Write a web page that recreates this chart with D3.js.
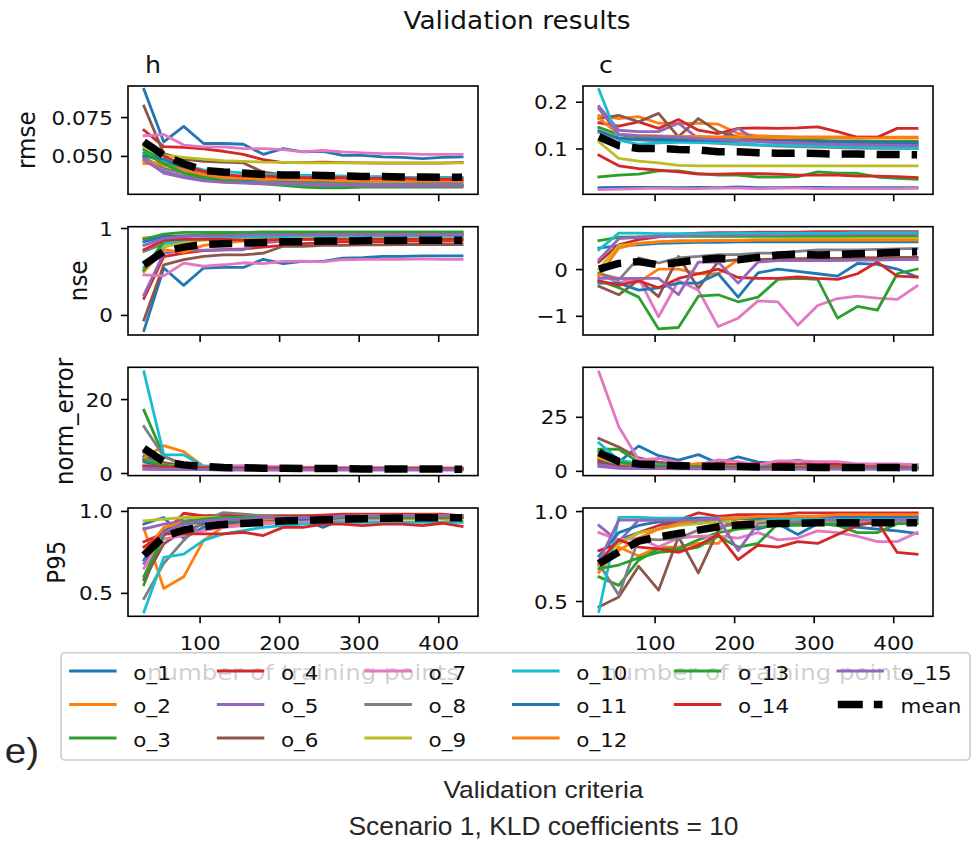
<!DOCTYPE html>
<html><head><meta charset="utf-8">
<script src="https://cdn.jsdelivr.net/npm/d3@7"></script>
<style>body{margin:0;background:#fff}svg{display:block}</style>
</head><body>
<svg id="chart" width="975" height="842"></svg>
<script>
// ---------------- DATA ----------------
const xPoints = [30,55,80,105,130,155,180,205,230,255,280,305,330,355,380,405,430];
const seriesNames = ["o_1","o_2","o_3","o_4","o_5","o_6","o_7","o_8","o_9","o_10","o_11","o_12","o_13","o_14","o_15"];
const xTickValues = [100,200,300,400];
const rowLabels = ["rmse","nse","norm_error","P95"];
const colTitles = ["h","c"];

const rmseH = [
 [0.0929,0.059,0.069,0.058,0.058,0.0575,0.051,0.0547,0.0526,0.053,0.0504,0.0504,0.0494,0.049,0.0483,0.049,0.0494],
 [0.045,0.046,0.043,0.039,0.037,0.036,0.0355,0.035,0.035,0.0345,0.034,0.034,0.034,0.034,0.0335,0.0335,0.0335],
 [0.054,0.047,0.041,0.037,0.035,0.034,0.033,0.032,0.031,0.0305,0.0305,0.031,0.031,0.031,0.031,0.031,0.031],
 [0.0666,0.056,0.0555,0.0545,0.053,0.051,0.0476,0.0457,0.0457,0.046,0.0457,0.0455,0.0453,0.0453,0.0453,0.0453,0.0458],
 [0.047,0.040,0.037,0.035,0.034,0.0335,0.033,0.033,0.0325,0.032,0.032,0.032,0.0315,0.0315,0.031,0.031,0.031],
 [0.0821,0.0515,0.048,0.0465,0.046,0.0455,0.0395,0.038,0.0375,0.037,0.037,0.0365,0.0365,0.036,0.036,0.036,0.036],
 [0.063,0.0638,0.057,0.0558,0.0558,0.0547,0.0547,0.054,0.0526,0.0535,0.0526,0.052,0.0515,0.0515,0.051,0.051,0.051],
 [0.049,0.042,0.039,0.036,0.0345,0.034,0.0335,0.033,0.033,0.0325,0.0325,0.032,0.032,0.032,0.032,0.032,0.032],
 [0.056,0.0504,0.049,0.048,0.047,0.0465,0.046,0.0458,0.0456,0.0455,0.0455,0.0455,0.0455,0.0455,0.0455,0.0455,0.0455],
 [0.050,0.047,0.044,0.041,0.040,0.039,0.038,0.038,0.0375,0.037,0.037,0.0365,0.0365,0.036,0.036,0.036,0.036],
 [0.050,0.048,0.042,0.038,0.036,0.035,0.035,0.0345,0.034,0.034,0.034,0.034,0.034,0.034,0.034,0.034,0.034],
 [0.047,0.044,0.041,0.038,0.036,0.0355,0.035,0.035,0.0345,0.0345,0.034,0.034,0.034,0.034,0.034,0.034,0.034],
 [0.052,0.045,0.039,0.036,0.034,0.033,0.032,0.031,0.030,0.0295,0.0295,0.030,0.030,0.030,0.030,0.030,0.030],
 [0.058,0.050,0.044,0.040,0.038,0.037,0.037,0.0365,0.036,0.036,0.036,0.0355,0.0355,0.0355,0.035,0.035,0.035],
 [0.048,0.039,0.036,0.034,0.033,0.0325,0.032,0.032,0.0315,0.031,0.031,0.031,0.0305,0.0305,0.0305,0.0305,0.0305]
];
const rmseHMean = [0.059,0.0504,0.045,0.0407,0.0397,0.039,0.0381,0.0378,0.0378,0.0374,0.0372,0.0368,0.0368,0.0364,0.0364,0.0362,0.0362];

const rmseC = [
 [0.016,0.017,0.017,0.017,0.016,0.017,0.016,0.018,0.016,0.016,0.017,0.017,0.016,0.016,0.016,0.016,0.016],
 [0.17,0.164,0.168,0.154,0.153,0.154,0.152,0.132,0.127,0.126,0.125,0.125,0.125,0.124,0.124,0.124,0.124],
 [0.145,0.129,0.125,0.123,0.122,0.121,0.12,0.119,0.118,0.118,0.117,0.117,0.116,0.116,0.115,0.115,0.115],
 [0.155,0.148,0.157,0.143,0.162,0.139,0.132,0.143,0.144,0.143,0.144,0.146,0.136,0.124,0.124,0.143,0.143],
 [0.19,0.139,0.136,0.136,0.154,0.121,0.118,0.143,0.115,0.112,0.11,0.108,0.107,0.106,0.105,0.105,0.105],
 [0.164,0.171,0.157,0.175,0.125,0.164,0.136,0.125,0.12,0.118,0.116,0.114,0.113,0.112,0.111,0.111,0.11],
 [0.012,0.013,0.014,0.015,0.014,0.014,0.015,0.015,0.014,0.015,0.015,0.014,0.014,0.014,0.014,0.014,0.015],
 [0.135,0.12,0.118,0.117,0.115,0.113,0.111,0.109,0.107,0.105,0.104,0.103,0.102,0.101,0.1,0.1,0.1],
 [0.114,0.0786,0.073,0.069,0.064,0.063,0.063,0.063,0.063,0.063,0.063,0.063,0.063,0.063,0.063,0.063,0.063],
 [0.226,0.118,0.109,0.112,0.113,0.113,0.112,0.11,0.108,0.107,0.106,0.105,0.104,0.103,0.102,0.101,0.1],
 [0.138,0.122,0.12,0.119,0.118,0.118,0.117,0.116,0.116,0.115,0.115,0.114,0.114,0.114,0.113,0.113,0.113],
 [0.165,0.13,0.128,0.127,0.126,0.126,0.125,0.125,0.124,0.124,0.123,0.123,0.123,0.122,0.122,0.122,0.122],
 [0.039,0.043,0.045,0.052,0.052,0.046,0.043,0.043,0.039,0.039,0.04,0.05,0.047,0.047,0.039,0.036,0.034],
 [0.0857,0.063,0.057,0.0536,0.05,0.045,0.045,0.0464,0.0464,0.045,0.043,0.043,0.043,0.041,0.041,0.04,0.038],
 [0.185,0.13,0.127,0.126,0.124,0.121,0.119,0.117,0.115,0.113,0.112,0.11,0.109,0.108,0.107,0.107,0.106]
];
const rmseCMean = [0.125,0.106,0.1,0.1,0.098,0.097,0.093,0.093,0.091,0.09,0.09,0.089,0.088,0.088,0.087,0.087,0.0864];

const nseH = [
 [-0.18,0.54,0.34,0.54,0.546,0.546,0.64,0.59,0.615,0.615,0.654,0.66,0.673,0.673,0.68,0.68,0.68],
 [0.885,0.9,0.91,0.915,0.915,0.92,0.92,0.92,0.92,0.92,0.92,0.92,0.92,0.92,0.92,0.92,0.92],
 [0.87,0.93,0.95,0.95,0.95,0.95,0.955,0.955,0.955,0.955,0.955,0.955,0.955,0.955,0.955,0.955,0.955],
 [0.19,0.67,0.71,0.74,0.75,0.76,0.78,0.8,0.82,0.83,0.84,0.84,0.845,0.85,0.85,0.85,0.85],
 [0.23,0.71,0.74,0.745,0.75,0.75,0.83,0.85,0.87,0.88,0.89,0.89,0.9,0.9,0.9,0.9,0.9],
 [-0.058,0.577,0.635,0.673,0.69,0.69,0.71,0.79,0.79,0.8,0.8,0.805,0.805,0.81,0.81,0.81,0.81],
 [0.46,0.45,0.596,0.56,0.577,0.6,0.59,0.615,0.62,0.61,0.635,0.64,0.64,0.64,0.645,0.64,0.64],
 [0.73,0.82,0.86,0.87,0.88,0.88,0.885,0.885,0.89,0.89,0.89,0.89,0.89,0.89,0.89,0.89,0.89],
 [0.5,0.78,0.84,0.86,0.87,0.875,0.88,0.88,0.885,0.885,0.885,0.89,0.89,0.89,0.89,0.89,0.89],
 [0.55,0.82,0.86,0.88,0.89,0.9,0.9,0.9,0.91,0.91,0.91,0.91,0.91,0.91,0.91,0.91,0.91],
 [0.84,0.9,0.91,0.92,0.92,0.92,0.93,0.93,0.93,0.93,0.93,0.93,0.93,0.93,0.93,0.93,0.93],
 [0.5,0.75,0.72,0.8,0.83,0.85,0.86,0.86,0.87,0.87,0.87,0.87,0.87,0.87,0.87,0.87,0.87],
 [0.52,0.85,0.9,0.92,0.93,0.935,0.94,0.94,0.94,0.94,0.945,0.945,0.945,0.945,0.945,0.945,0.945],
 [0.75,0.86,0.87,0.87,0.87,0.86,0.86,0.87,0.87,0.87,0.87,0.87,0.87,0.87,0.87,0.87,0.87],
 [0.8,0.88,0.9,0.91,0.91,0.92,0.92,0.92,0.92,0.925,0.925,0.925,0.925,0.925,0.925,0.925,0.925]
];
const nseHMean = [0.577,0.73,0.78,0.81,0.82,0.827,0.833,0.842,0.842,0.85,0.85,0.853,0.857,0.857,0.86,0.86,0.86];

const nseC = [
 [0.45,0.5,0.52,0.55,0.56,0.57,0.57,0.58,0.58,0.58,0.58,0.58,0.58,0.58,0.58,0.58,0.58],
 [-0.1,-0.2,-0.28,0.0,0.0,-0.1,-0.1,0.2,0.2,0.22,0.22,0.23,0.23,0.24,0.24,0.25,0.25],
 [0.61,0.68,0.69,0.7,0.7,0.7,0.7,0.7,0.7,0.7,0.7,0.7,0.7,0.7,0.7,0.7,0.7],
 [0.15,0.52,0.63,0.69,0.74,0.77,0.78,0.78,0.79,0.79,0.79,0.8,0.8,0.8,0.8,0.8,0.8],
 [0.2,0.65,0.68,0.7,0.71,0.72,0.72,0.73,0.73,0.74,0.74,0.74,0.75,0.75,0.75,0.75,0.75],
 [-0.37,-0.55,-0.23,-0.59,0.27,-0.41,0.16,0.2,0.2,0.21,0.22,0.23,0.23,0.24,0.24,0.25,0.25],
 [-0.1,-0.3,-0.2,-1.02,-0.25,-0.45,-1.23,-1.05,-0.68,-0.7,-1.2,-0.78,-0.63,-0.58,-0.62,-0.65,-0.36],
 [-0.086,-0.23,0.24,0.13,0.24,0.27,0.31,0.31,0.34,0.34,0.38,0.41,0.41,0.41,0.42,0.43,0.44],
 [0.0,0.5,0.55,0.58,0.6,0.61,0.62,0.62,0.63,0.63,0.64,0.64,0.64,0.65,0.65,0.65,0.65],
 [0.41,0.77,0.77,0.76,0.76,0.76,0.76,0.77,0.77,0.77,0.77,0.77,0.77,0.78,0.78,0.78,0.78],
 [-0.3,-0.3,-0.45,-0.4,-0.3,-0.3,-0.1,-0.6,-0.08,0.0,-0.05,-0.1,-0.15,0.12,0.1,0.0,-0.17],
 [-0.15,0.45,0.55,0.58,0.6,0.6,0.61,0.61,0.62,0.62,0.62,0.62,0.62,0.62,0.62,0.62,0.62],
 [-0.25,-0.4,-0.6,-1.28,-1.25,-0.58,-0.55,-0.7,-0.6,-0.22,-0.2,-0.22,-1.05,-0.8,-0.88,-0.1,0.0],
 [-0.25,-0.35,-0.25,-0.4,-0.2,-0.1,0.0,-0.18,-0.2,-0.2,-0.17,-0.2,-0.22,-0.1,0.15,-0.15,-0.17],
 [-0.2,-0.2,-0.2,-0.2,-0.55,0.15,0.15,-0.3,0.15,0.18,0.18,0.18,0.18,0.19,0.19,0.2,0.2]
];
const nseCMean = [0.0,0.12,0.16,0.09,0.14,0.2,0.23,0.2,0.25,0.3,0.32,0.3,0.31,0.33,0.34,0.36,0.37];

const normErrH = [
 [4.5,2.5,2.0,1.8,1.6,1.5,1.4,1.3,1.3,1.2,1.2,1.2,1.1,1.1,1.1,1.1,1.1],
 [4.0,7.4,5.8,1.8,1.6,1.5,1.4,1.3,1.2,1.2,1.2,1.1,1.1,1.1,1.1,1.1,1.0],
 [17.0,4.5,2.2,1.5,1.4,1.3,1.2,1.2,1.1,1.1,1.1,1.0,1.0,1.0,1.0,1.0,1.0],
 [2.0,1.9,1.8,1.8,1.7,1.6,1.6,1.5,1.5,1.5,1.4,1.4,1.4,1.4,1.4,1.3,1.3],
 [1.0,0.9,0.9,0.9,0.8,0.8,0.8,0.8,0.8,0.8,0.8,0.8,0.8,0.8,0.8,0.8,0.8],
 [5.5,2.8,2.0,1.7,1.5,1.4,1.3,1.3,1.2,1.2,1.2,1.1,1.1,1.1,1.1,1.1,1.1],
 [2.0,1.9,1.9,1.9,1.9,2.0,1.8,1.7,1.6,1.5,1.5,1.4,1.4,1.4,1.3,1.3,1.3],
 [12.6,4.5,2.3,1.7,1.5,1.4,1.3,1.2,1.2,1.2,1.1,1.1,1.1,1.1,1.1,1.0,1.0],
 [3.5,2.2,1.6,1.4,1.3,1.2,1.2,1.1,1.1,1.1,1.1,1.0,1.0,1.0,1.0,1.0,1.0],
 [27.4,4.9,4.9,1.8,1.6,1.5,1.4,1.3,1.3,1.2,1.2,1.1,1.1,1.1,1.0,1.0,1.0],
 [3.0,1.8,1.5,1.3,1.2,1.1,1.1,1.0,1.0,1.0,1.0,1.0,1.0,0.9,0.9,0.9,0.9],
 [3.8,2.0,1.6,1.4,1.3,1.2,1.2,1.1,1.1,1.1,1.0,1.0,1.0,1.0,1.0,1.0,1.0],
 [3.5,2.1,1.5,1.3,1.2,1.2,1.1,1.1,1.0,1.0,1.0,1.0,1.0,1.0,1.0,1.0,1.0],
 [1.8,1.6,1.5,1.4,1.4,1.3,1.3,1.3,1.3,1.3,1.2,1.2,1.2,1.2,1.2,1.2,1.2],
 [1.3,1.1,1.0,1.0,0.9,0.9,0.9,0.9,0.9,0.9,0.9,0.9,0.9,0.9,0.9,0.9,0.9]
];
const normErrHMean = [6.7,3.1,2.2,1.8,1.5,1.4,1.3,1.3,1.2,1.2,1.2,1.1,1.1,1.1,1.1,1.1,1.0];

const normErrC = [
 [9.0,4.0,11.5,7.0,5.0,7.5,3.5,6.5,4.0,3.5,5.0,3.0,3.0,2.5,2.5,2.5,2.0],
 [5.0,3.0,2.5,2.2,2.0,1.8,1.8,1.7,1.6,1.6,1.5,1.5,1.5,1.4,1.4,1.4,1.4],
 [10.0,10.0,4.0,3.0,2.5,2.2,2.0,1.9,1.8,1.8,1.7,1.7,1.6,1.6,1.6,1.5,1.5],
 [5.0,2.5,2.3,2.3,2.5,3.0,3.5,3.0,3.5,3.5,3.2,3.0,3.0,2.8,2.8,2.8,2.7],
 [2.0,1.2,1.0,1.0,0.9,0.9,0.9,0.9,0.8,0.8,0.8,0.8,0.8,0.8,0.8,0.8,0.8],
 [15.0,11.0,6.0,4.0,3.0,2.5,2.2,2.0,2.0,1.9,1.8,1.8,1.7,1.7,1.7,1.6,1.6],
 [45.7,20.4,5.1,5.8,3.8,2.8,5.1,4.3,2.8,4.6,4.6,4.3,4.3,3.2,3.2,3.2,2.8],
 [7.0,4.0,3.0,2.5,2.2,2.0,1.9,1.8,1.7,1.7,1.6,1.6,1.6,1.5,1.5,1.5,1.5],
 [6.0,3.0,2.2,1.9,1.7,1.6,1.5,1.5,1.4,1.4,1.4,1.3,1.3,1.3,1.3,1.3,1.3],
 [13.0,5.0,3.5,2.8,2.5,2.2,2.0,1.9,1.8,1.8,1.7,1.7,1.6,1.6,1.6,1.6,1.5],
 [4.0,2.2,1.8,1.6,1.5,1.4,1.4,1.3,1.3,1.3,1.2,1.2,1.2,1.2,1.2,1.2,1.2],
 [6.5,3.5,2.6,2.2,2.0,3.5,1.8,1.7,1.6,1.6,1.5,1.5,1.5,1.5,1.4,1.4,1.4],
 [8.0,4.0,2.8,2.3,2.0,1.9,1.8,1.7,1.7,1.6,1.6,1.6,1.5,1.5,1.5,1.5,1.5],
 [3.5,1.8,1.5,1.4,1.3,1.3,1.3,1.2,1.2,1.2,1.2,1.2,1.1,1.1,1.1,1.1,1.1],
 [3.0,1.5,1.2,1.1,1.0,1.0,1.0,1.0,0.9,0.9,0.9,0.9,0.9,0.9,0.9,0.9,0.9]
];
const normErrCMean = [8.4,4.3,3.2,2.8,2.3,2.2,2.0,2.0,1.8,1.8,1.7,1.6,1.5,1.5,1.5,1.5,1.4];

const p95H = [
 [0.92,0.96,0.833,0.9,0.92,0.93,0.94,0.94,0.95,0.9,0.95,0.96,0.96,0.97,0.97,0.97,0.97],
 [0.894,0.527,0.598,0.82,0.904,0.92,0.93,0.94,0.945,0.95,0.95,0.95,0.95,0.95,0.95,0.95,0.94],
 [0.55,0.86,0.96,0.97,0.97,0.97,0.97,0.97,0.97,0.97,0.97,0.97,0.97,0.97,0.97,0.97,0.97],
 [0.812,0.863,0.986,0.97,0.975,0.97,0.97,0.97,0.97,0.975,0.98,0.98,0.98,0.98,0.98,0.98,0.97],
 [0.89,0.92,0.94,0.95,0.95,0.96,0.96,0.96,0.96,0.96,0.96,0.97,0.97,0.97,0.97,0.97,0.97],
 [0.58,0.8,0.88,0.92,0.93,0.94,0.95,0.95,0.95,0.96,0.96,0.96,0.96,0.96,0.96,0.96,0.96],
 [0.65,0.83,0.85,0.88,0.9,0.91,0.92,0.93,0.93,0.94,0.95,0.95,0.95,0.96,0.96,0.96,0.96],
 [0.465,0.68,0.82,0.945,0.99,0.98,0.97,0.96,0.96,0.96,0.96,0.96,0.96,0.96,0.96,0.96,0.96],
 [0.94,0.95,0.96,0.96,0.96,0.96,0.96,0.96,0.96,0.96,0.96,0.97,0.97,0.97,0.97,0.97,0.97],
 [0.384,0.716,0.737,0.82,0.86,0.88,0.9,0.91,0.92,0.92,0.93,0.93,0.93,0.93,0.93,0.93,0.93],
 [0.7,0.88,0.92,0.93,0.94,0.94,0.95,0.95,0.95,0.95,0.96,0.96,0.96,0.96,0.96,0.96,0.96],
 [0.75,0.9,0.93,0.94,0.95,0.95,0.95,0.96,0.96,0.96,0.96,0.96,0.96,0.96,0.96,0.96,0.96],
 [0.6,0.85,0.93,0.95,0.96,0.96,0.96,0.96,0.96,0.96,0.96,0.96,0.96,0.96,0.96,0.96,0.96],
 [0.78,0.86,0.86,0.86,0.86,0.87,0.85,0.9,0.9,0.92,0.92,0.91,0.92,0.92,0.91,0.925,0.905],
 [0.68,0.87,0.92,0.94,0.95,0.95,0.96,0.96,0.96,0.96,0.97,0.97,0.97,0.97,0.97,0.97,0.97]
];
const p95HMean = [0.73,0.843,0.884,0.904,0.918,0.924,0.93,0.939,0.942,0.946,0.951,0.953,0.955,0.957,0.959,0.959,0.959];

const p95C = [
 [0.7,0.84,0.88,0.9,0.94,0.93,0.95,0.92,0.9,0.93,0.87,0.93,0.92,0.91,0.9,0.89,0.875],
 [0.66,0.8,0.75,0.8,0.8,0.82,0.82,0.93,0.95,0.96,0.96,0.96,0.96,0.97,0.97,0.97,0.96],
 [0.634,0.587,0.727,0.79,0.79,0.84,0.88,0.9,0.91,0.92,0.92,0.93,0.93,0.93,0.93,0.93,0.93],
 [0.78,0.82,0.88,0.92,0.95,0.99,0.97,0.98,0.98,0.98,0.99,0.99,0.99,0.99,0.99,0.99,0.99],
 [0.92,0.83,0.95,0.95,0.95,0.95,0.95,0.96,0.96,0.96,0.96,0.96,0.96,0.96,0.96,0.96,0.96],
 [0.467,0.522,0.693,0.56,0.857,0.656,0.894,0.96,0.95,0.95,0.95,0.95,0.95,0.95,0.95,0.95,0.95],
 [0.88,0.84,0.85,0.8,0.85,0.86,0.86,0.85,0.88,0.84,0.85,0.89,0.88,0.86,0.83,0.83,0.88],
 [0.708,0.532,0.848,0.84,0.848,0.894,0.91,0.93,0.94,0.94,0.95,0.95,0.95,0.95,0.95,0.95,0.95],
 [0.72,0.82,0.88,0.9,0.92,0.93,0.94,0.94,0.94,0.95,0.95,0.95,0.95,0.95,0.95,0.95,0.95],
 [0.442,0.965,0.965,0.96,0.96,0.96,0.96,0.96,0.96,0.96,0.96,0.955,0.955,0.955,0.955,0.95,0.95],
 [0.75,0.88,0.92,0.94,0.95,0.96,0.96,0.96,0.96,0.97,0.97,0.97,0.97,0.97,0.97,0.97,0.97],
 [0.7,0.78,0.85,0.9,0.93,0.95,0.96,0.96,0.97,0.97,0.97,0.97,0.98,0.98,0.98,0.98,0.98],
 [0.68,0.7,0.74,0.77,0.78,0.8,0.86,0.8,0.82,0.93,0.93,0.93,0.92,0.88,0.88,0.93,0.93],
 [0.72,0.84,0.8,0.79,0.77,0.81,0.87,0.73,0.81,0.8,0.83,0.82,0.87,0.92,0.94,0.77,0.76],
 [0.72,0.95,0.95,0.95,0.95,0.95,0.96,0.78,0.93,0.94,0.94,0.95,0.95,0.95,0.95,0.95,0.95]
];
const p95CMean = [0.708,0.773,0.833,0.857,0.875,0.894,0.913,0.922,0.927,0.931,0.931,0.935,0.935,0.935,0.935,0.935,0.935];

const rmseHTicks = [0.050,0.075], rmseCTicks = [0.1,0.2];
const nseHTicks = [0,1], nseCTicks = [-1,0];
const normErrHTicks = [0,20], normErrCTicks = [0,25];
const p95HTicks = [0.5,1.0], p95CTicks = [0.5,1.0];

// ---------------- LAYOUT / STYLE ----------------
const colors = ["#1f77b4","#ff7f0e","#2ca02c","#d62728","#9467bd","#8c564b","#e377c2","#7f7f7f","#bcbd22","#17becf","#1f77b4","#ff7f0e","#2ca02c","#d62728","#9467bd"];
const SX = 1.1; // horizontal text stretch of the reference
const FONT = "'DejaVu Sans', sans-serif";
const colX = [[128,478],[583,933]];
const rowTop = [86,226.7,367.3,508];
const rowH = 108.3;

const panels = [
 {row:0,col:0,series:rmseH,mean:rmseHMean,domain:[0.0253,0.095],ticks:rmseHTicks,fmt:".3f"},
 {row:0,col:1,series:rmseC,mean:rmseCMean,domain:[0.002,0.2336],ticks:rmseCTicks,fmt:".1f"},
 {row:1,col:0,series:nseH,mean:nseHMean,domain:[-0.231,1.015],ticks:nseHTicks,fmt:"d"},
 {row:1,col:1,series:nseC,mean:nseCMean,domain:[-1.41,0.906],ticks:nseCTicks,fmt:"d"},
 {row:2,col:0,series:normErrH,mean:normErrHMean,domain:[-0.7,28.6],ticks:normErrHTicks,fmt:"d"},
 {row:2,col:1,series:normErrC,mean:normErrCMean,domain:[-2.2,47.9],ticks:normErrCTicks,fmt:"d"},
 {row:3,col:0,series:p95H,mean:p95HMean,domain:[0.357,1.018],ticks:p95HTicks,fmt:".1f"},
 {row:3,col:1,series:p95C,mean:p95CMean,domain:[0.415,1.017],ticks:p95CTicks,fmt:".1f"}
];

const svg = d3.select("#chart");
svg.append("rect").attr("width",975).attr("height",842).attr("fill","#fff");
const defs = svg.append("defs");

panels.forEach((p,pi)=>{
  const [x0,x1] = colX[p.col];
  const y0 = rowTop[p.row], y1 = y0+rowH;
  const x = d3.scaleLinear().domain([10,450]).range([x0,x1]);
  const y = d3.scaleLinear().domain(p.domain).range([y1,y0]);
  const clipId = "clip"+pi;
  defs.append("clipPath").attr("id",clipId).append("rect")
    .attr("x",x0).attr("y",y0).attr("width",x1-x0).attr("height",y1-y0);
  const g = svg.append("g");
  const line = d3.line().x((d,i)=>x(xPoints[i])).y(d=>y(d));
  const lg = g.append("g").attr("clip-path",`url(#${clipId})`);
  p.series.forEach((s,si)=>{
    lg.append("path").attr("d",line(s)).attr("fill","none")
      .attr("stroke",colors[si]).attr("stroke-width",2.8)
      .attr("stroke-linejoin","round").attr("stroke-linecap","square");
  });
  lg.append("path").attr("d",line(p.mean)).attr("fill","none")
    .attr("stroke","#000").attr("stroke-width",7.5)
    .attr("stroke-dasharray","23,12").attr("stroke-linejoin","round").attr("stroke-linecap","butt");

  // y axis
  const ya = g.append("g").attr("transform",`translate(${x0},0)`)
    .call(d3.axisLeft(y).tickValues(p.ticks).tickSize(7).tickFormat(d3.format(p.fmt)));
  ya.select(".domain").remove();
  ya.selectAll("line").attr("stroke","#000").attr("stroke-width",1.6);
  ya.selectAll("text").attr("x",null).attr("dy",null)
    .attr("transform",`translate(-15,7) scale(${SX},1)`)
    .attr("text-anchor","end").attr("fill","#111")
    .style("font-family",FONT).style("font-size","19.5px");

  // x axis
  const xa = g.append("g").attr("transform",`translate(0,${y1})`)
    .call(d3.axisBottom(x).tickValues(xTickValues).tickSize(7)
      .tickFormat(p.row===3 ? d3.format("d") : ()=>""));
  xa.select(".domain").remove();
  xa.selectAll("line").attr("stroke","#000").attr("stroke-width",1.6);
  xa.selectAll("text").attr("y",null).attr("dy",null)
    .attr("transform",`translate(0,34) scale(${SX},1)`)
    .attr("text-anchor","middle").attr("fill","#111")
    .style("font-family",FONT).style("font-size","19.5px");

  // frame
  g.append("rect").attr("x",x0).attr("y",y0).attr("width",x1-x0).attr("height",y1-y0)
    .attr("fill","none").attr("stroke","#000").attr("stroke-width",1.6);
});

function stretchedText(x,y,txt,size,anchor,family,fill){
  return svg.append("text").attr("transform",`translate(${x},${y}) scale(${SX},1)`)
    .attr("text-anchor",anchor).style("font-family",family||FONT)
    .style("font-size",size+"px").attr("fill",fill||"#111").text(txt);
}

// suptitle and column titles
stretchedText(517,29,"Validation results",24,"middle");
stretchedText(145,73,colTitles[0],23,"start");
stretchedText(599,73,colTitles[1],23,"start");

// row labels (rotated)
const rowLabelX = [35,86.5,73,65];
rowLabels.forEach((lab,r)=>{
  svg.append("text")
    .attr("transform",`translate(${rowLabelX[r]},${rowTop[r]+rowH/2}) scale(${SX},1) rotate(-90)`)
    .attr("text-anchor","middle").style("font-family",FONT).style("font-size","23px")
    .attr("fill","#111").text(lab);
});

// x labels (under the legend)
colX.forEach(([a,b])=>{
  svg.append("text").attr("x",(a+b)/2).attr("y",680).attr("text-anchor","middle")
    .attr("textLength",312).attr("lengthAdjust","spacingAndGlyphs")
    .style("font-family",FONT).style("font-size","21px").attr("fill","#111")
    .text("number of training points");
});

// legend
svg.append("rect").attr("x",61).attr("y",652.7).attr("width",909).attr("height",107.3)
  .attr("rx",4).attr("fill","#fff").attr("fill-opacity",0.8)
  .attr("stroke","#cccccc").attr("stroke-width",1.6);
const legendItems = seriesNames.map((n,i)=>({name:n,color:colors[i],mean:false}))
  .concat([{name:"mean",color:"#000",mean:true}]);
const colCounts = [3,3,3,3,2,2];
const legColX = [69,216.7,364.3,512,673.7,836.3];
const legRowY = [671,704.5,738];
let idx = 0;
colCounts.forEach((cnt,c)=>{
  for(let r=0;r<cnt;r++){
    const it = legendItems[idx++];
    const lx = legColX[c], ly = legRowY[r];
    if(it.mean){
      svg.append("line").attr("x1",lx+1.5).attr("x2",lx+46.2).attr("y1",ly).attr("y2",ly)
        .attr("stroke","#000").attr("stroke-width",7.5).attr("stroke-dasharray","25,11");
    } else {
      svg.append("line").attr("x1",lx+1.5).attr("x2",lx+46.2).attr("y1",ly).attr("y2",ly)
        .attr("stroke",it.color).attr("stroke-width",2.8).attr("stroke-linecap","square");
    }
    stretchedText(lx+64.3,ly+8.7,it.name,19.5,"start");
  }
});

// outside captions
svg.append("text").attr("transform",`translate(39,763) scale(${SX},1)`).attr("text-anchor","end")
  .style("font-family","'Liberation Sans', Arial, sans-serif").style("font-size","35px")
  .attr("fill","#262626").text("e)");
svg.append("text").attr("x",543.5).attr("y",798).attr("text-anchor","middle")
  .attr("textLength",200).attr("lengthAdjust","spacingAndGlyphs")
  .style("font-family","'Liberation Sans', Arial, sans-serif").style("font-size","24.5px")
  .attr("fill","#262626").text("Validation criteria");
svg.append("text").attr("x",543.5).attr("y",834.5).attr("text-anchor","middle")
  .attr("textLength",390).attr("lengthAdjust","spacingAndGlyphs")
  .style("font-family","'Liberation Sans', Arial, sans-serif").style("font-size","25px")
  .attr("fill","#262626").text("Scenario 1, KLD coefficients = 10");
</script>
</body></html>
